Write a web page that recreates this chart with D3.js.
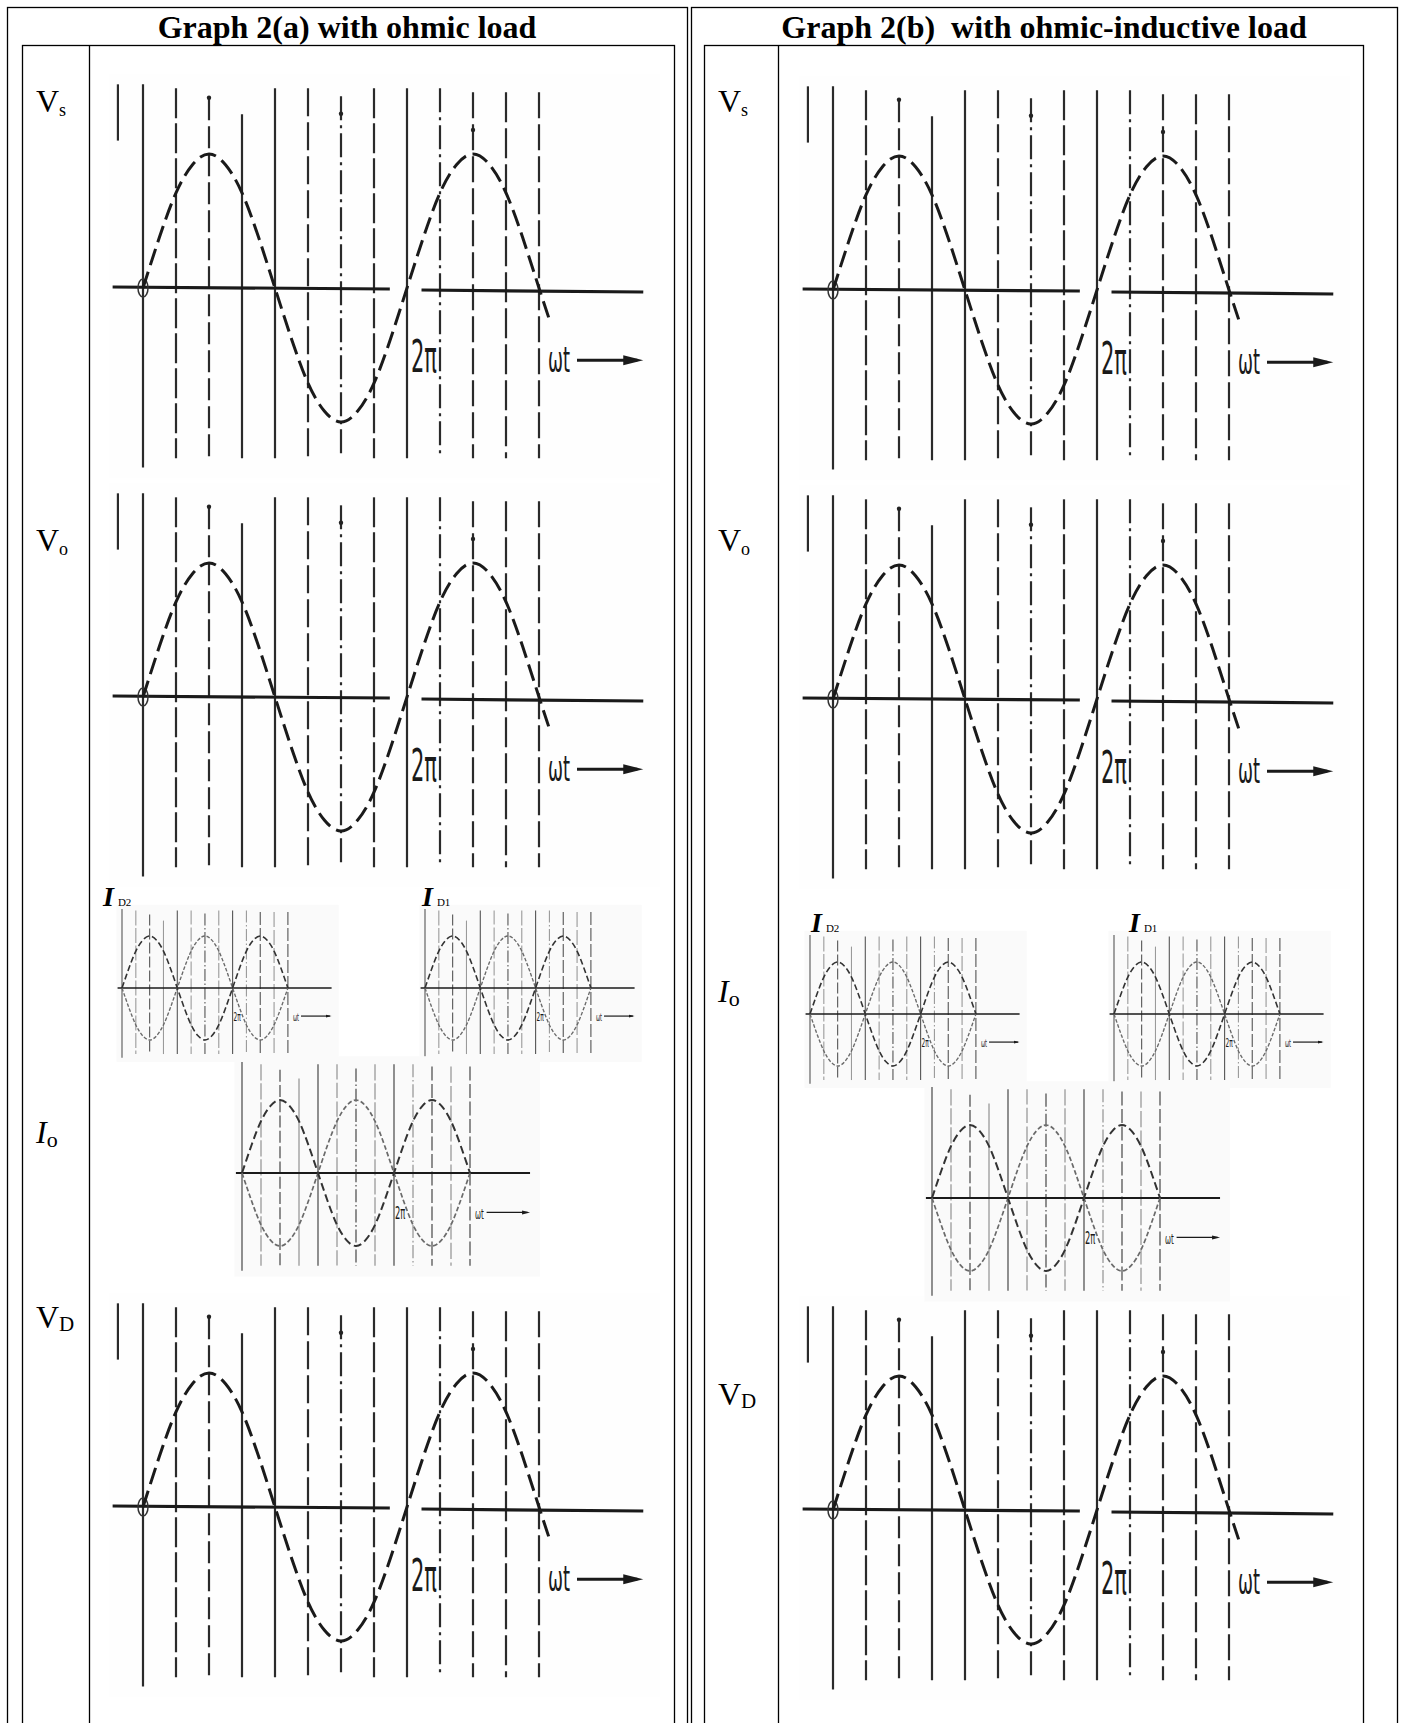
<!DOCTYPE html>
<html>
<head>
<meta charset="utf-8">
<script src="https://cdn.jsdelivr.net/npm/d3@7"></script>
<style>
  body { margin: 0; background: #fff; }
  svg { display: block; }
</style>
</head>
<body>
<div id="sheet"></div>
<script>
// Values. ωt is in units of π.
var wtPi = [0, 0.125, 0.25, 0.375, 0.5, 0.625, 0.75, 0.875, 1, 1.125, 1.25, 1.375, 1.5,
            1.625, 1.75, 1.875, 2, 2.125, 2.25, 2.375, 2.5, 2.625, 2.75, 2.875, 3, 3.08];
// supply / output / diode voltage trace (normalised)
var vWave = [0, 0.38, 0.71, 0.92, 1, 0.92, 0.71, 0.38, 0, -0.38, -0.71, -0.92, -1,
             -0.92, -0.71, -0.38, 0, 0.38, 0.71, 0.92, 1, 0.92, 0.71, 0.38, 0, -0.24];
// current traces: bold one and the faint opposite one
var iWaveMain = [0, 0.38, 0.71, 0.92, 1, 0.92, 0.71, 0.38, 0, -0.38, -0.71, -0.92, -1,
                 -0.92, -0.71, -0.38, 0, 0.38, 0.71, 0.92, 1, 0.92, 0.71, 0.38, 0];
var iWaveOther = [0, -0.38, -0.71, -0.92, -1, -0.92, -0.71, -0.38, 0, 0.38, 0.71, 0.92, 1,
                  0.92, 0.71, 0.38, 0, -0.38, -0.71, -0.92, -1, -0.92, -0.71, -0.38, 0];
// grid lines on the scope screen every π/4
var gridWtPi = [0, 0.25, 0.5, 0.75, 1, 1.25, 1.5, 1.75, 2, 2.25, 2.5, 2.75, 3];
// small dots above the peaks in the voltage traces
var peakDots = [[0.5, 1.42], [2.5, 1.18], [1.5, 1.3]];

var titles = ["Graph 2(a) with ohmic load", "Graph 2(b)  with ohmic-inductive load"];
var rowLabels = [
  { main: "V", sub: "s" },
  { main: "V", sub: "o" },
  { main: "I", sub: "o" },
  { main: "V", sub: "D" }
];
var diodeLabels = ["D2", "D1"];
var tickLabels = ["2π", "ωt"];

// ---- layout / style ----
var svgWidth = 1406, svgHeight = 1723;
var serif = "'Liberation Serif','Times New Roman',Times,serif";
var scopeFont = "'DejaVu Sans Condensed','DejaVu Sans',sans-serif";

var gridDash = [null, "30,5", "22,6", null, null, "28,6", "24,5,3,5", "30,5", null, "24,5,3,5", "26,6", "30,6", "26,6"];
var gridTopShift = [0, 4, 14, 30, 4, 4, 12, 4, 4, 4, 8, 8, 8];

var sizes = {
  big:   { P: 132,  A: 134, ls: 1,    gapPi: 4, gapWt: 9, gridW: 2.2, waveW: 3,   axisW: 3.2, dash: "17,7" },
  io:    { P: 76,   A: 73,  ls: 0.4,  gapPi: 1, gapWt: 5, gridW: 1.3, waveW: 2,   axisW: 2,   dash: "8,4" },
  small: { P: 55.3, A: 52,  ls: 0.28, gapPi: 1, gapWt: 5, gridW: 1.1, waveW: 1.6, axisW: 1.6, dash: "6,3" }
};

var panels = [
  { outerX: 7, outerW: 680, innerX: 22, innerW: 652, divX: 89, titleX: 347, labelX: 36,
    labelY: [112, 551, 1143, 1328],
    big: [{ x0: 143, y0: 288 }, { x0: 143, y0: 697 }, { x0: 143, y0: 1507 }],
    small: [{ x0: 122, y0: 988, lx: 103, ly: 906 }, { x0: 425, y0: 988, lx: 422, ly: 906 }],
    io: { x0: 242, y0: 1173 } },
  { outerX: 691, outerW: 706, innerX: 704, innerW: 659, divX: 778, titleX: 1044, labelX: 718,
    labelY: [112, 551, 1002, 1405],
    big: [{ x0: 833, y0: 290 }, { x0: 833, y0: 699 }, { x0: 833, y0: 1510 }],
    small: [{ x0: 810, y0: 1014, lx: 811, ly: 932 }, { x0: 1114, y0: 1014, lx: 1129, ly: 932 }],
    io: { x0: 932, y0: 1198 } }
];

var svg = d3.select("#sheet")
  .append("svg")
  .attr("width", svgWidth)
  .attr("height", svgHeight);

svg.append("rect").attr("width", svgWidth).attr("height", svgHeight).attr("fill", "#fff");

// one scope picture
function drawScope(g, o, s, kind) {
  var x = d3.scaleLinear().domain([0, 3]).range([o.x0, o.x0 + 3 * s.P]);
  var y = d3.scaleLinear().domain([-1, 1]).range([o.y0 + s.A, o.y0 - s.A]);
  var k = s.A / 134;
  var sg = g.append("g");

  // faint scan background
  sg.append("rect")
    .attr("x", x(kind == "v" ? -0.26 : -0.1))
    .attr("y", y(1.6))
    .attr("width", x(3.92) - x(kind == "v" ? -0.26 : -0.1))
    .attr("height", y(-1.42) - y(1.6))
    .attr("fill", kind == "v" ? "#fefefe" : "#fafafa");

  // vertical screen lines
  sg.selectAll(".grid")
    .data(gridWtPi)
    .enter()
    .append("line")
    .attr("class", "grid")
    .attr("x1", d => x(d))
    .attr("x2", d => x(d))
    .attr("y1", (d, i) => y(1.52) + gridTopShift[i] * k)
    .attr("y2", (d, i) => y(i == 0 ? -1.34 : -1.27))
    .attr("stroke", (d, i) => kind == "v" ? "#2a2a2a" : (i % 2 ? "#9a9a9a" : "#555"))
    .attr("stroke-width", s.gridW)
    .attr("stroke-dasharray", (d, i) => gridDash[i] ? gridDash[i].split(",").map(v => (+v * Math.max(k, 0.5)).toFixed(1)).join(",") : null);

  var wave = d3.line()
    .x(d => x(d[0]))
    .y(d => y(d[1]))
    .curve(d3.curveNatural);

  if (kind == "v") {
    // short stub left of the origin
    sg.append("line")
      .attr("x1", x(-0.19)).attr("x2", x(-0.19))
      .attr("y1", y(1.52)).attr("y2", y(1.1))
      .attr("stroke", "#2a2a2a").attr("stroke-width", s.gridW);

    // axis with the gap around 2π
    sg.append("line")
      .attr("x1", x(-0.23)).attr("y1", y(0) - 1)
      .attr("x2", x(1.87)).attr("y2", y(0) + 1)
      .attr("stroke", "#1a1a1a").attr("stroke-width", s.axisW);
    sg.append("line")
      .attr("x1", x(2.11)).attr("y1", y(0) + 2)
      .attr("x2", x(3.79)).attr("y2", y(0) + 4)
      .attr("stroke", "#1a1a1a").attr("stroke-width", s.axisW);
    sg.append("ellipse")
      .attr("cx", x(0)).attr("cy", y(0))
      .attr("rx", 5).attr("ry", 9)
      .attr("fill", "none").attr("stroke", "#333").attr("stroke-width", 1.5);

    sg.append("path")
      .attr("d", wave(d3.zip(wtPi, vWave)))
      .attr("fill", "none")
      .attr("stroke", "#1a1a1a")
      .attr("stroke-width", s.waveW)
      .attr("stroke-dasharray", s.dash);

    sg.selectAll(".dot")
      .data(peakDots)
      .enter()
      .append("circle")
      .attr("class", "dot")
      .attr("cx", d => x(d[0]))
      .attr("cy", d => y(d[1]))
      .attr("r", 2.2)
      .attr("fill", "#222");
  } else {
    sg.append("line")
      .attr("x1", x(-0.08)).attr("y1", y(0))
      .attr("x2", x(3.79)).attr("y2", y(0))
      .attr("stroke", "#1a1a1a").attr("stroke-width", s.axisW);

    sg.append("path")
      .attr("d", wave(d3.zip(wtPi.slice(0, 25), iWaveOther)))
      .attr("fill", "none")
      .attr("stroke", "#6a6a6a")
      .attr("stroke-width", s.waveW * 0.85)
      .attr("stroke-dasharray", s.dash.split(",").map(v => +v * 0.6).join(","));

    sg.append("path")
      .attr("d", wave(d3.zip(wtPi.slice(0, 25), iWaveMain)))
      .attr("fill", "none")
      .attr("stroke", "#333")
      .attr("stroke-width", s.waveW)
      .attr("stroke-dasharray", s.dash);
  }

  // 2π and ωt marks
  sg.append("text")
    .attr("x", x(2) + s.gapPi)
    .attr("y", y(-0.63))
    .attr("font-family", scopeFont)
    .attr("font-size", 44 * s.ls)
    .attr("textLength", 26 * s.ls)
    .attr("lengthAdjust", "spacingAndGlyphs")
    .attr("fill", "#1a1a1a")
    .text(tickLabels[0]);

  var wtX = x(3) + s.gapWt;
  sg.append("text")
    .attr("x", wtX)
    .attr("y", y(-0.63))
    .attr("font-family", scopeFont)
    .attr("font-size", 36 * s.ls)
    .attr("textLength", 22 * s.ls)
    .attr("lengthAdjust", "spacingAndGlyphs")
    .attr("fill", "#1a1a1a")
    .text(tickLabels[1]);

  var arrowY = y(-0.54);
  var arrowEnd = x(3.79);
  sg.append("line")
    .attr("x1", wtX + 29 * s.ls).attr("y1", arrowY)
    .attr("x2", arrowEnd - 6 * s.ls).attr("y2", arrowY)
    .attr("stroke", "#1a1a1a").attr("stroke-width", Math.max(3 * s.ls, 1.2));
  sg.append("path")
    .attr("d", d3.line()([[arrowEnd, arrowY], [arrowEnd - 20 * s.ls, arrowY - 5 * s.ls], [arrowEnd - 20 * s.ls, arrowY + 5 * s.ls]]) + "Z")
    .attr("fill", "#1a1a1a");
}

function drawLabel(g, x, y, lab) {
  var t = g.append("text")
    .attr("x", x).attr("y", y)
    .attr("font-family", serif)
    .attr("font-size", 32)
    .attr("fill", "#000");
  t.append("tspan")
    .attr("font-style", lab.main == "I" ? "italic" : "normal")
    .text(lab.main);
  t.append("tspan")
    .attr("font-size", lab.sub == "D" ? 21 : (lab.main == "I" ? 22 : 18))
    .attr("dy", lab.sub == "D" ? 3 : 4)
    .text(lab.sub);
}

panels.forEach(function(p, pi) {
  var g = svg.append("g");

  // table frames
  g.append("rect")
    .attr("x", p.outerX + 0.5).attr("y", 7.5)
    .attr("width", p.outerW).attr("height", 1800)
    .attr("fill", "none").attr("stroke", "#000").attr("stroke-width", 1.3);
  g.append("rect")
    .attr("x", p.innerX + 0.5).attr("y", 45.5)
    .attr("width", p.innerW).attr("height", 1800)
    .attr("fill", "none").attr("stroke", "#000").attr("stroke-width", 1.3);
  g.append("line")
    .attr("x1", p.divX + 0.5).attr("x2", p.divX + 0.5)
    .attr("y1", 45.5).attr("y2", svgHeight)
    .attr("stroke", "#000").attr("stroke-width", 1.3);

  g.append("text")
    .attr("x", p.titleX).attr("y", 38)
    .attr("text-anchor", "middle")
    .attr("font-family", serif)
    .attr("font-weight", "bold")
    .attr("font-size", 32)
    .style("white-space", "pre")
    .text(titles[pi]);

  rowLabels.forEach(function(lab, i) {
    drawLabel(g, p.labelX, p.labelY[i], lab);
  });

  p.big.forEach(function(o) { drawScope(g, o, sizes.big, "v"); });
  p.small.forEach(function(o, i) {
    drawScope(g, o, sizes.small, "i");
    var t = g.append("text")
      .attr("x", o.lx).attr("y", o.ly)
      .attr("font-family", serif)
      .attr("fill", "#000");
    t.append("tspan")
      .attr("font-size", 28)
      .attr("font-weight", "bold")
      .attr("font-style", "italic")
      .text("I");
    t.append("tspan")
      .attr("font-size", 11)
      .attr("dx", 4)
      .text(diodeLabels[i]);
  });
  drawScope(g, p.io, sizes.io, "i");
});
</script>
</body>
</html>
